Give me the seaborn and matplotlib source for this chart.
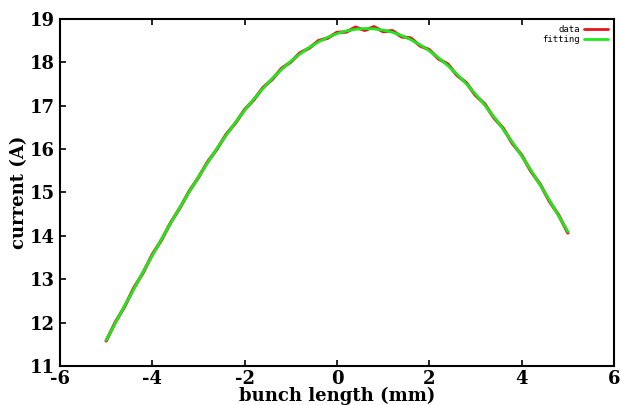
import numpy as np
import pandas as pd
import matplotlib
matplotlib.use("Agg")
import matplotlib.pyplot as plt
import seaborn as sns
from matplotlib.lines import Line2D

# bunch length positions (mm)
bunch_length = [
    -5.0, -4.8, -4.6, -4.4, -4.2, -4.0, -3.8, -3.6, -3.4, -3.2,
    -3.0, -2.8, -2.6, -2.4, -2.2, -2.0, -1.8, -1.6, -1.4, -1.2,
    -1.0, -0.8, -0.6, -0.4, -0.2, 0.0, 0.2, 0.4, 0.6, 0.8,
    1.0, 1.2, 1.4, 1.6, 1.8, 2.0, 2.2, 2.4, 2.6, 2.8,
    3.0, 3.2, 3.4, 3.6, 3.8, 4.0, 4.2, 4.4, 4.6, 4.8, 5.0,
]

# measured current (A)
current_data = [
    11.58, 12.01, 12.37, 12.80, 13.15, 13.57, 13.91, 14.31, 14.65, 15.03,
    15.35, 15.71, 16.00, 16.34, 16.60, 16.91, 17.14, 17.42, 17.61, 17.86,
    18.01, 18.22, 18.33, 18.50, 18.56, 18.69, 18.70, 18.81, 18.74, 18.82,
    18.71, 18.73, 18.59, 18.56, 18.38, 18.29, 18.08, 17.96, 17.70, 17.53,
    17.24, 17.04, 16.72, 16.48, 16.13, 15.86, 15.49, 15.19, 14.80, 14.48, 14.07,
]

# fitted current (A)
current_fit = [
    11.597, 11.992, 12.387, 12.778, 13.166, 13.550, 13.928, 14.299, 14.662, 15.016,
    15.360, 15.694, 16.014, 16.322, 16.616, 16.894, 17.156, 17.401, 17.629, 17.837,
    18.027, 18.196, 18.345, 18.472, 18.578, 18.662, 18.724, 18.763, 18.780, 18.773,
    18.744, 18.693, 18.619, 18.523, 18.405, 18.266, 18.105, 17.925, 17.725, 17.506,
    17.268, 17.014, 16.743, 16.456, 16.155, 15.839, 15.512, 15.173, 14.823, 14.463, 14.096,
]

x_ticks = [-6, -4, -2, 0, 2, 4, 6]
y_ticks = [11, 12, 13, 14, 15, 16, 17, 18, 19]

df = pd.concat([
    pd.DataFrame({"x": bunch_length, "y": current_data, "series": "data"}),
    pd.DataFrame({"x": bunch_length, "y": current_fit, "series": "fitting"}),
])

sns.set_style("white")
plt.rcParams["font.family"] = ["DejaVu Serif"]
plt.rcParams["text.color"] = "black"
plt.rcParams["axes.labelcolor"] = "black"
plt.rcParams["xtick.color"] = "black"
plt.rcParams["ytick.color"] = "black"

fig = plt.figure(figsize=(6.21, 4.05), dpi=100)
ax = fig.add_axes([0.0966, 0.0963, 0.8921, 0.8568])

red = "#e8141c"
green = "#1ee81e"
sns.lineplot(data=df, x="x", y="y", hue="series",
             palette={"data": red, "fitting": green},
             ax=ax, sort=False, estimator=None, legend=False)
lines = ax.get_lines()
lines[0].set_linewidth(2.4)
lines[1].set_linewidth(2.0)

ax.set_xlim(-6, 6)
ax.set_ylim(11, 19)
ax.set_xticks(x_ticks)
ax.set_yticks(y_ticks)
ax.set_xticklabels([str(t) for t in x_ticks], fontweight="bold", fontsize=13)
ax.set_yticklabels([str(t) for t in y_ticks], fontweight="bold", fontsize=13)
ax.tick_params(axis="x", direction="in", length=4, width=1.2, pad=3,
               top=True, bottom=True)
ax.tick_params(axis="y", direction="in", length=4, width=1.2, pad=4,
               left=True, right=False)

for side in ax.spines.values():
    side.set_visible(True)
    side.set_color("black")
    side.set_linewidth(1.5)

ax.set_xlabel("bunch length (mm)", fontweight="bold", fontsize=13, labelpad=-1)
ax.set_ylabel("current (A)", fontweight="bold", fontsize=13, labelpad=1)

handles = [Line2D([], [], color=red, lw=2.0),
           Line2D([], [], color=green, lw=2.0)]
ax.legend(handles, ["data", "fitting"], loc="upper right", frameon=False,
          markerfirst=False, handlelength=2.6, handletextpad=0.5,
          labelspacing=0.1, borderaxespad=0.3,
          prop={"family": "DejaVu Sans Mono", "size": 6.5})

fig.savefig("out.png", dpi=100, facecolor="white")
